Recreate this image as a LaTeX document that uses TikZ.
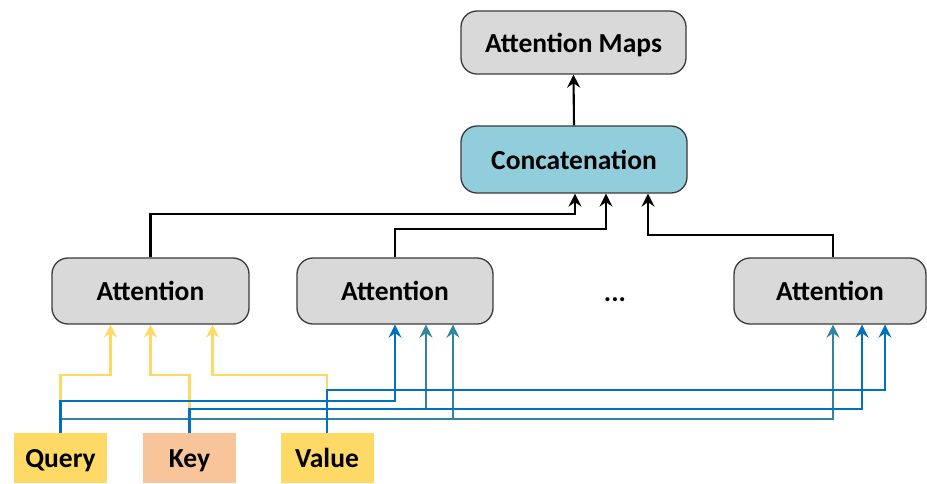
\documentclass[tikz,border=0pt]{standalone}
\usepackage{fontspec}
\setmainfont{Carlito}
\usetikzlibrary{arrows.meta,calc}

\definecolor{boxgray}{HTML}{D9D9D9}
\definecolor{boxedge}{HTML}{3A3A3A}
\definecolor{concatfill}{HTML}{92CDDC}
\definecolor{qvfill}{HTML}{FFD966}
\definecolor{keyfill}{HTML}{F8C59B}
\definecolor{linkyellow}{HTML}{FFD966}
\definecolor{linkblue}{HTML}{0070C0}
\definecolor{linkteal}{HTML}{31859C}

\tikzset{
  lbl/.style={font=\fontsize{27.5}{32}\selectfont\bfseries, text height=19pt, text depth=0pt},
  roundbox/.style={lbl, draw=boxedge, line width=1.3pt, rounded corners=16pt,
    fill=boxgray, inner sep=0pt},
  inbox/.style={lbl, inner sep=0pt, minimum width=93pt, minimum height=50pt},
  tip/.style={-{Stealth[length=13pt,width=13pt,inset=4.5pt]}},
  blackln/.style={tip, line width=2.1pt, black},
  yelln/.style={tip, line width=2.1pt, linkyellow},
  blueln/.style={tip, line width=2.1pt, linkblue},
  tealln/.style={tip, line width=2.1pt, linkteal},
}

\begin{document}
\begin{tikzpicture}[x=1pt, y=-1pt]
  \useasboundingbox (0,0) rectangle (927,483);

  % top of the stack
  \node[roundbox, minimum width=225pt, minimum height=63pt] (maps) at (573.5,42.5) {Attention Maps};
  \node[roundbox, fill=concatfill, minimum width=226pt, minimum height=67pt] (concat) at (574,159.5) {Concatenation};

  % attention heads
  \node[roundbox, minimum width=197pt, minimum height=66pt] (a1) at (150.5,291) {Attention};
  \node[roundbox, minimum width=196pt, minimum height=66pt] (a2) at (395,291) {Attention};
  \node[roundbox, minimum width=192pt, minimum height=66pt] (a3) at (830,291) {Attention};
  \node[lbl] (dots) at (615,292) {...};

  % inputs
  \node[inbox, fill=qvfill] (q) at (60.5,458) {Query};
  \node[inbox, fill=keyfill] (k) at (189.5,458) {Key};
  \node[inbox, fill=qvfill] (v) at (327,458) {Value};

  % bus rows
  \coordinate (ryel) at (0,375);
  \coordinate (rv) at (0,390);
  \coordinate (rq) at (0,401);
  \coordinate (rk) at (0,409);
  \coordinate (rt) at (0,419);
  \coordinate (r1) at (0,214);
  \coordinate (r2) at (0,229);
  \coordinate (r3) at (0,235);

  % arrow entry points on the heads
  \coordinate (a1q) at ($(a1.south)+(-40,0)$);
  \coordinate (a1k) at ($(a1.south)+(0,0)$);
  \coordinate (a1v) at ($(a1.south)+(62,0)$);
  \coordinate (a2a) at ($(a2.south)+(0,0)$);
  \coordinate (a2b) at ($(a2.south)+(31,0)$);
  \coordinate (a2c) at ($(a2.south)+(58,0)$);
  \coordinate (a3a) at ($(a3.south)+(3,0)$);
  \coordinate (a3b) at ($(a3.south)+(32,0)$);
  \coordinate (a3c) at ($(a3.south)+(55,0)$);
  \coordinate (a3top) at ($(a3.north)+(3,0)$);

  % entry points on the concatenation box
  \coordinate (c1) at ($(concat.south)+(1,0)$);
  \coordinate (c2) at ($(concat.south)+(32,0)$);
  \coordinate (c3) at ($(concat.south)+(74,0)$);

  % yellow feeds into the first head
  \draw[yelln] (q.north) -- (q.north |- ryel) -| (a1q);
  \draw[yelln] (k.north) -- (k.north |- ryel) -| (a1k);
  \draw[yelln] (v.north) -- (v.north |- ryel) -| (a1v);

  % feeds into the other heads
  \draw[tealln] (q.north) -- (q.north |- rt) -| (a3a);
  \draw[tealln] (a2c |- rt) -- (a2c);
  \draw[tealln] (a2b |- rk) -- (a2b);
  \draw[blueln] (k.north) -- (k.north |- rk) -| (a3b);
  \draw[blueln] (q.north) -- (q.north |- rq) -| (a2a);
  \draw[blueln] (v.north) -- (v.north |- rv) -| (a3c);

  % heads into concatenation
  \draw[blackln] (a1.north) -- (a1.north |- r1) -| (c1);
  \draw[blackln] (a2.north) -- (a2.north |- r2) -| (c2);
  \draw[blackln] (a3top) -- (a3top |- r3) -| (c3);

  % concatenation into the maps
  \draw[blackln] (concat.north) -- (maps.south);
\end{tikzpicture}
\end{document}
